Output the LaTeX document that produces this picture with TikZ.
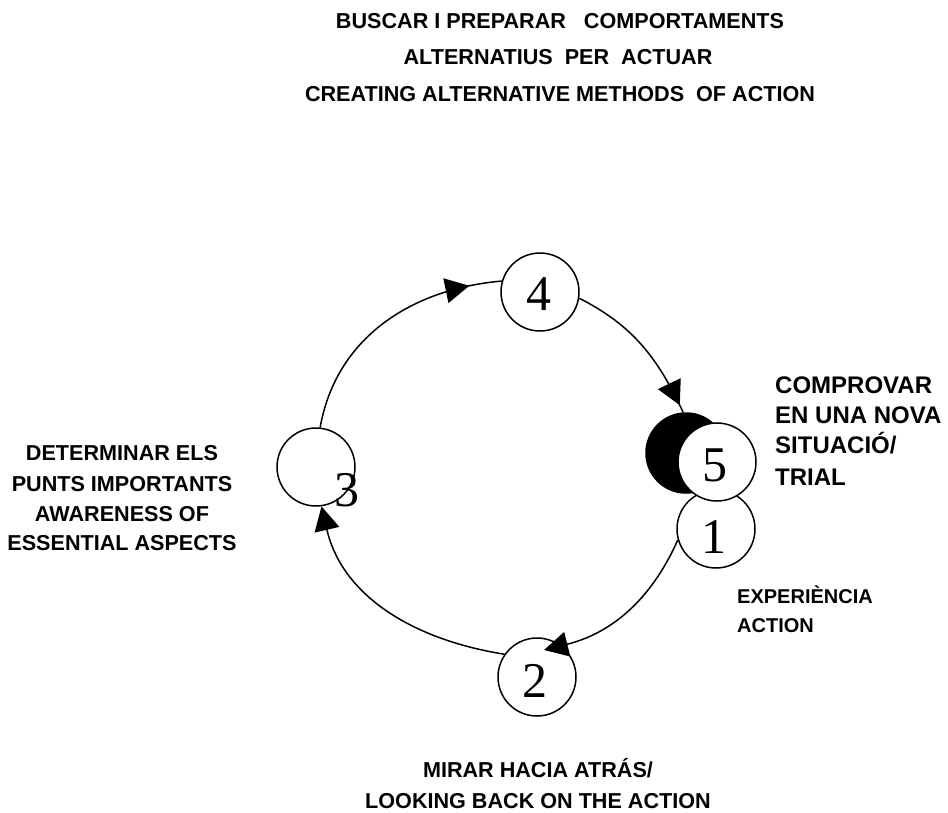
\documentclass[tikz,border=0pt]{standalone}
\usepackage{fontspec}
\setmainfont{Liberation Sans}
\newfontfamily\numfont{Liberation Serif}
\usetikzlibrary{arrows.meta,decorations.markings}
\begin{document}
\begin{tikzpicture}[x=1pt,y=1pt,
  numcirc/.style={circle,draw,line width=1.5pt,fill=white,minimum size=78pt,inner sep=0pt},
  blackcirc/.style={circle,draw,line width=1.5pt,fill=black,minimum size=80pt,inner sep=0pt},
  numtxt/.style={font=\numfont\fontsize{50}{50}\selectfont,inner sep=0pt},
  lab/.style={font=\bfseries\fontsize{21.6}{25}\selectfont,inner sep=0pt,anchor=base},
  labr/.style={font=\bfseries\fontsize{24}{28}\selectfont,inner sep=0pt,anchor=base west},
  labe/.style={font=\bfseries\fontsize{20}{24}\selectfont,inner sep=0pt,anchor=base west},
  flow/.style={line width=1.5pt},
  tipA/.style={-{Triangle[length=24pt,width=25pt]}},
  midtip/.style={postaction={decorate},decoration={markings,mark=at position #1 with {\arrow{Triangle[length=24pt,width=25pt]}}}}
]
\useasboundingbox (0,0) rectangle (948,-812);
% circles
\node[blackcirc] (n5b) at (686,-453) {};
\node[numcirc] (n1) at (716,-529) {};
\node[numcirc] (n5) at (717,-462) {};
\node[numcirc] (n4) at (540,-292) {};
\node[numcirc] (n3) at (316,-467) {};
\node[numcirc] (n2) at (537,-677) {};
% digits
\node[numtxt] (t4) at (539,-294) {4};
\node[numtxt] (t5) at (715,-465) {5};
\node[numtxt] (t1) at (714,-537) {1};
\node[numtxt] (t2) at (535,-681) {2};
\node[numtxt] (t3) at (347,-490) {3};
% connectors
\coordinate (tip2) at (544,-650);
\draw[flow, midtip=0.87] (n3.84) to[out=80,in=185] (n4.164);
\draw[flow, midtip=0.95] (n4.-9) to[out=-27,in=115] (n5b.94);
\draw[flow, tipA] (n1.196) to[out=246,in=14] (tip2);
\draw[flow, tipA] (n2.145) to[out=171,in=283] (n3.-82);
% texts
\node[lab] (title1) at (560,-28) {BUSCAR I PREPARAR~~~COMPORTAMENTS};
\node[lab] (title2) at (558,-64) {ALTERNATIUS~~PER~~ACTUAR};
\node[lab] (title3) at (560,-101) {CREATING ALTERNATIVE METHODS~~OF ACTION};
\node[lab] (l1) at (122,-460) {DETERMINAR ELS};
\node[lab] (l2) at (122,-491) {PUNTS IMPORTANTS};
\node[lab] (l3) at (122,-521) {AWARENESS OF};
\node[lab] (l4) at (122,-550) {ESSENTIAL ASPECTS};
\node[labr] (r1) at (775,-393) {COMPROVAR};
\node[labr] (r2) at (775,-423) {EN UNA NOVA};
\node[labr] (r3) at (775,-453) {SITUACIÓ/};
\node[labr] (r4) at (775,-485) {TRIAL};
\node[labe] (e1) at (737,-603) {EXPERIÈNCIA};
\node[labe] (e2) at (737,-632) {ACTION};
\node[lab] (b1) at (538,-777) {MIRAR HACIA ATRÁS/};
\node[lab] (b2) at (538,-808.5) {LOOKING BACK ON THE ACTION};
\end{tikzpicture}
\end{document}
